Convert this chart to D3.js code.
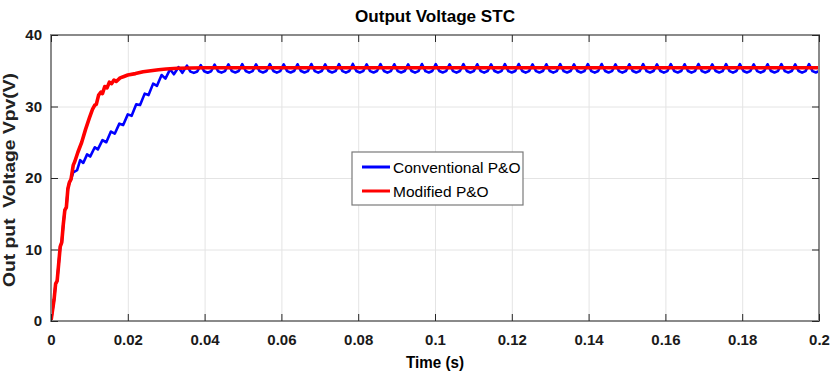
<!DOCTYPE html>
<html><head><meta charset="utf-8">
<script src="https://cdn.jsdelivr.net/npm/d3@7"></script>
<style>body{margin:0;background:#fff}</style></head>
<body><svg id="c" width="833" height="380"></svg>
<script>
// ---------- data ----------
const xTickValues = [0,0.02,0.04,0.06,0.08,0.1,0.12,0.14,0.16,0.18,0.2];
const xTickLabels = ["0","0.02","0.04","0.06","0.08","0.1","0.12","0.14","0.16","0.18","0.2"];
const yTickValues = [0,10,20,30,40];
const yTickLabels = ["0","10","20","30","40"];
const seriesNames = ["Conventional P&O","Modified P&O"];
const titleText = "Output Voltage STC";
const xLabelText = "Time (s)";
const yLabelText = "Out put  Voltage Vpv(V)";

// Modified P&O (red)
const modTime = [0,0.0008,0.0012,0.0016,0.0020,0.0024,0.0028,0.0032,0.0036,0.0040,0.0044,0.0048,0.0052,0.0058,0.0062,0.0070,0.0080,0.0090,0.0100,0.0108,0.0114,0.0118,0.0124,0.0130,0.0134,0.0140,0.0146,0.0152,0.0158,0.0164,0.0170,0.0180,0.0190,0.0200,0.0220,0.0240,0.0260,0.0280,0.0300,0.0330,0.0400,0.0600,0.1000,0.1500,0.2000];
const modVolt = [0,3.0,5.2,5.6,8.0,10.4,11.0,13.5,15.5,15.9,18.5,19.4,19.8,21.8,22.3,23.6,25.0,26.8,28.4,29.6,30.2,30.3,31.6,32.0,31.8,32.8,32.6,33.4,33.2,33.7,33.5,34.0,34.2,34.4,34.6,34.85,35.0,35.15,35.25,35.35,35.42,35.42,35.42,35.42,35.42];

// Conventional P&O (blue) – transient part
const convTime = [0,0.0008,0.0012,0.0016,0.0020,0.0024,0.0028,0.0032,0.0036,0.0040,0.0044,0.0048,0.0052,0.0058,0.0068,0.0076,0.0084,0.0094,0.0102,0.0114,0.0122,0.0134,0.0144,0.0156,0.0166,0.0178,0.0188,0.0200,0.0210,0.0222,0.0232,0.0244,0.0254,0.0266,0.0276,0.0288,0.0298,0.0310,0.0320,0.0332,0.0342];
const convVolt = [0,3.0,5.2,5.6,8.0,10.4,11.0,13.5,15.5,15.9,18.5,19.4,19.8,20.8,21.1,22.5,22.1,23.3,23.0,24.3,24.0,25.3,25.0,26.5,26.2,27.6,27.4,28.9,28.7,30.3,30.2,31.8,31.6,33.2,32.9,34.4,33.9,35.2,34.5,35.5,34.7];
// Conventional P&O (blue) – steady-state ripple, sampled every convSteadyStep seconds from convSteadyStart
const convSteadyStart = 0.0354;
const convSteadyStep = 0.0009;
const convSteadyVolt = [
35.72,34.88,34.70,34.90, 35.80,34.92,34.72,34.93, 35.86,34.94,34.74,34.95, 35.88,34.95,34.75,34.96,
35.92,34.96,34.74,34.95, 35.90,34.95,34.75,34.96, 35.93,34.96,34.74,34.95, 35.89,34.95,34.76,34.96,
35.91,34.96,34.75,34.95, 35.94,34.95,34.74,34.96, 35.90,34.96,34.75,34.95, 35.92,34.95,34.74,34.96,
35.95,34.96,34.75,34.95, 35.89,34.95,34.76,34.96, 35.93,34.96,34.74,34.95, 35.91,34.95,34.75,34.96,
35.90,34.96,34.74,34.95, 35.94,34.95,34.75,34.96, 35.92,34.96,34.76,34.95, 35.90,34.95,34.74,34.96,
35.93,34.96,34.75,34.95, 35.91,34.95,34.74,34.96, 35.89,34.96,34.75,34.95, 35.92,34.95,34.76,34.96,
35.94,34.96,34.74,34.95, 35.90,34.95,34.75,34.96, 35.91,34.96,34.74,34.95, 35.93,34.95,34.75,34.96,
35.90,34.96,34.76,34.95, 35.92,34.95,34.74,34.96, 35.94,34.96,34.75,34.95, 35.89,34.95,34.74,34.96,
35.91,34.96,34.75,34.95, 35.93,34.95,34.76,34.96, 35.90,34.96,34.74,34.95, 35.92,34.95,34.75,34.96,
35.91,34.96,34.74,34.95, 35.94,34.95,34.75,34.96, 35.90,34.96,34.76,34.95, 35.92,34.95,34.74,34.96,
35.93,34.96,34.75,34.95, 35.89,34.95,34.74,34.96, 35.91,34.96,34.75,34.95, 35.92,34.95,34.76,34.96,
35.90,34.96,34.74,34.95, 35.93,34.95,34.75,34.96
];

// ---------- chart ----------
const W = 833, H = 380;
const L = 51, R = 819, T = 35, B = 321;
const svg = d3.select("#c");
const x = d3.scaleLinear().domain([0,0.2]).range([L,R]);
const y = d3.scaleLinear().domain([0,40]).range([B,T]);

const FONT_NARROW = "'Liberation Sans Narrow','Liberation Sans',Arial,sans-serif";
const FONT = "'Liberation Sans',Arial,sans-serif";

// grid
const gx = svg.append("g").attr("transform",`translate(0,${B})`)
  .call(d3.axisBottom(x).tickValues(xTickValues).tickSize(-(B-T)).tickFormat(""));
const gy = svg.append("g").attr("transform",`translate(${L},0)`)
  .call(d3.axisLeft(y).tickValues(yTickValues).tickSize(-(R-L)).tickFormat(""));
[gx,gy].forEach(g=>{ g.select(".domain").remove(); g.selectAll("line").attr("stroke","#e4e4e4").attr("stroke-width",1); });

// data
const clip = svg.append("clipPath").attr("id","pc").append("rect").attr("x",L).attr("y",T-10).attr("width",R-L).attr("height",B-T+10);
const convData = convTime.map((t,i)=>[t,convVolt[i]])
  .concat(convSteadyVolt.map((v,i)=>[convSteadyStart+i*convSteadyStep, v]));
const modData = modTime.map((t,i)=>[t,modVolt[i]]);
const line = d3.line().x(d=>x(d[0])).y(d=>y(d[1]));
const plot = svg.append("g").attr("clip-path","url(#pc)");
plot.append("path").datum(convData).attr("d",line).attr("fill","none").attr("stroke","#0000ff").attr("stroke-width",2.6).attr("stroke-linejoin","round");
plot.append("path").datum(modData).attr("d",line).attr("fill","none").attr("stroke","#ff0000").attr("stroke-width",3.6).attr("stroke-linejoin","round");

// box
svg.append("rect").attr("x",L).attr("y",T).attr("width",R-L).attr("height",B-T)
  .attr("fill","none").attr("stroke","#8a8a8a").attr("stroke-width",2);

// axes with inward ticks
function styleAxis(g){
  g.select(".domain").remove();
  g.selectAll(".tick line").attr("stroke","#262626").attr("stroke-width",1);
  g.selectAll("text").attr("font-family",FONT_NARROW).attr("font-weight","bold").attr("font-size",15).attr("fill","#1a1a1a");
}
svg.append("g").attr("transform",`translate(0,${B})`)
  .call(d3.axisBottom(x).tickValues(xTickValues).tickFormat((d,i)=>xTickLabels[i]).tickSize(-7).tickPadding(13)).call(styleAxis);
svg.append("g").attr("transform",`translate(0,${T})`)
  .call(d3.axisTop(x).tickValues(xTickValues).tickFormat("").tickSize(-7)).call(styleAxis);
svg.append("g").attr("transform",`translate(${L},0)`)
  .call(d3.axisLeft(y).tickValues(yTickValues).tickFormat((d,i)=>yTickLabels[i]).tickSize(-7).tickPadding(9)).call(styleAxis);
svg.append("g").attr("transform",`translate(${R},0)`)
  .call(d3.axisRight(y).tickValues(yTickValues).tickFormat("").tickSize(-7)).call(styleAxis);

// title & labels
svg.append("text").attr("x",(L+R)/2).attr("y",22).attr("text-anchor","middle")
  .attr("font-family",FONT).attr("font-weight","bold").attr("font-size",17)
  .attr("textLength",160).attr("lengthAdjust","spacingAndGlyphs").text(titleText);
svg.append("text").attr("x",(L+R)/2).attr("y",368).attr("text-anchor","middle")
  .attr("font-family",FONT).attr("font-weight","bold").attr("font-size",17)
  .attr("textLength",58).attr("lengthAdjust","spacingAndGlyphs").text(xLabelText);
svg.append("text").attr("transform",`translate(15,${(T+B)/2+2}) rotate(-90)`).attr("text-anchor","middle")
  .style("white-space","pre")
  .attr("font-family",FONT).attr("font-weight","bold").attr("font-size",17).attr("fill","#222")
  .attr("textLength",214).attr("lengthAdjust","spacingAndGlyphs").text(yLabelText);

// legend
const lg = svg.append("g");
lg.append("rect").attr("x",352).attr("y",152).attr("width",171).attr("height",53)
  .attr("fill","#fff").attr("stroke","#7a7a7a").attr("stroke-width",1.2);
const lgColors = ["#0000ff","#ff0000"];
seriesNames.forEach((name,i)=>{
  const yy = 167 + i*24;
  lg.append("line").attr("x1",362).attr("x2",390).attr("y1",yy).attr("y2",yy)
    .attr("stroke",lgColors[i]).attr("stroke-width",3);
  lg.append("text").attr("x",393).attr("y",yy+5.5).attr("font-family",FONT).attr("font-size",15.5)
    .attr("fill","#000").text(name);
});
</script></body></html>
